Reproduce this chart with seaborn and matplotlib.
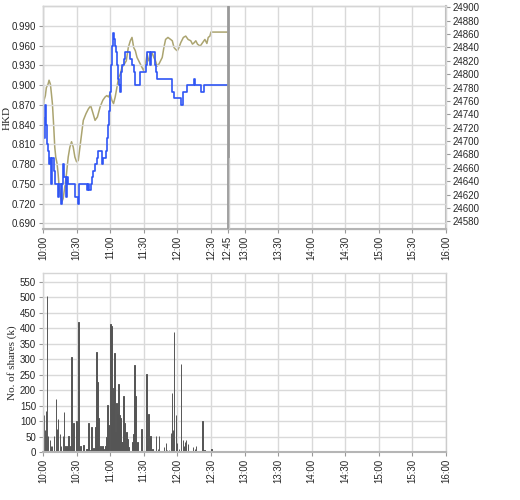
import matplotlib
matplotlib.use("Agg")
import matplotlib.pyplot as plt
import seaborn as sns
import pandas as pd

# minutes after 10:00 and last traded price (HKD)
price_min = [0, 0.6, 1.5, 2.4, 3.6, 4.5, 5.4, 6.6, 7.5, 8.4, 9.6, 10.5, 12, 13.5, 14.4,
             15.9, 17.1, 18, 18.9, 20.1, 21, 22.5, 28.5, 31.5, 32.1, 39, 40.5, 41.4, 42.6,
             43.5, 45, 46.5, 48, 49.5, 52.5, 53.4, 56.4, 57.6, 58.5, 59.4, 60, 60.9, 61.5,
             62.4, 63, 63.9, 64.8, 66, 66.6, 67.5, 68.4, 69.6, 70.8, 72, 73.5, 78, 79.5, 81,
             81.9, 87, 92.1, 93, 96, 96.9, 99.9, 101.1, 102, 115.5, 117, 123, 125.4, 129,
             135, 135.9, 141, 144, 165]
price = [0.85, 0.82, 0.87, 0.84, 0.81, 0.80, 0.78, 0.79, 0.75, 0.79, 0.77, 0.75, 0.75, 0.73, 0.75,
         0.72, 0.75, 0.78, 0.76, 0.73, 0.76, 0.75, 0.73, 0.72, 0.75, 0.74, 0.75, 0.74, 0.75,
         0.76, 0.77, 0.78, 0.79, 0.80, 0.78, 0.79, 0.80, 0.82, 0.84, 0.86, 0.89, 0.93, 0.96,
         0.98, 0.97, 0.96, 0.95, 0.93, 0.91, 0.90, 0.89, 0.92, 0.93, 0.94, 0.95, 0.94, 0.93, 0.92,
         0.90, 0.92, 0.93, 0.95, 0.93, 0.95, 0.93, 0.92, 0.91, 0.89, 0.88, 0.87, 0.89, 0.90,
         0.91, 0.90, 0.89, 0.90, 0.90]

# index level on the right axis
index_min = [0, 0.9, 2.1, 3, 4.5, 5.4, 6.6, 7.5, 8.4, 9.6, 10.5, 11.4, 12.6, 13.5, 14.4, 15.6,
             16.8, 18, 19.5, 21, 22.5, 24, 25.5, 27, 28.5, 30, 31.5, 33, 34.5, 36, 38.4, 40.5,
             42.6, 44.4, 46.5, 48.6, 51, 53.4, 55.5, 57, 58.5, 60, 61.5, 63, 64.5, 66, 67.5, 69,
             70.5, 72.6, 74.4, 76.2, 78, 79.5, 81, 82.5, 84, 85.5, 87, 88.5, 90, 91.5, 93, 94.5,
             96, 97.5, 99, 100.5, 102, 103.5, 105, 106.5, 108, 109.5, 111.6, 114, 115.5, 117,
             118.5, 120, 121.5, 123, 125.4, 127.5, 129.6, 132, 133.5, 135, 136.5, 138, 140.4,
             142.5, 144.6, 146.4, 147.6, 149.1, 150, 165]
index_lvl = [24746, 24761, 24768, 24780, 24785, 24791, 24785, 24771, 24756, 24721, 24691, 24676,
             24666, 24651, 24632, 24619, 24609, 24614, 24632, 24651, 24676, 24691, 24699, 24691,
             24676, 24669, 24671, 24691, 24711, 24731, 24741, 24748, 24753, 24743, 24731, 24736,
             24751, 24761, 24766, 24768, 24766, 24771, 24761, 24756, 24766, 24780, 24795, 24800,
             24810, 24815, 24820, 24840, 24850, 24855, 24840, 24835, 24825, 24820, 24815, 24810,
             24805, 24815, 24830, 24820, 24825, 24832, 24825, 24820, 24812, 24815, 24820, 24825,
             24840, 24852, 24855, 24852, 24850, 24840, 24837, 24835, 24840, 24847, 24855, 24857,
             24852, 24850, 24845, 24847, 24850, 24845, 24842, 24847, 24852, 24846, 24855, 24857,
             24863, 24863]

# per-minute volume, thousand shares
vol_min = [0.9, 1.8, 2.7, 3.6, 4.5, 6.3, 7.2, 8.1, 9.9, 11.7, 12.6, 13.5, 15.3, 16.2, 18, 18.9,
           19.8, 20.7, 21.6, 22.5, 24.3, 25.2, 26.1, 27, 29.7, 31.5, 33.3, 36, 38.7, 39.6, 40.5,
           42.3, 43.2, 45, 46.8, 47.7, 48.6, 49.5, 51.3, 53.1, 54, 55.8, 56.7, 57.6, 58.5, 60.3,
           61.2, 62.1, 63, 63.9, 64.8, 65.7, 66.6, 67.5, 68.4, 69.3, 70.2, 71.1, 72, 72.9, 73.8,
           74.7, 75.6, 76.5, 80.1, 81, 81.9, 82.8, 84.6, 88.2, 92.7, 93.6, 94.5, 96.3, 97.2, 98.1,
           100.8, 102.6, 103.5, 108, 109.8, 110.7, 112.5, 114.3, 115.2, 116.1, 117, 118.8, 119.7,
           121.5, 123.3, 125.1, 126, 126.9, 127.8, 129.6, 134.1, 135.9, 136.8, 142.2, 144, 150.3]
volume = [119, 70, 132, 504, 51, 38, 19, 19, 51, 171, 75, 106, 57, 19, 51, 128,
          19, 13, 19, 51, 19, 307, 8, 95, 101, 420, 19, 24, 11, 11, 94,
          8, 81, 13, 81, 324, 226, 110, 19, 19, 11, 19, 49, 151, 88, 413,
          408, 154, 206, 320, 63, 159, 124, 219, 119, 109, 32, 32, 180, 94, 32,
          65, 43, 16, 32, 57, 280, 180, 32, 74, 251, 19, 122, 51, 8, 11,
          51, 11, 51, 16, 30, 8, 8, 61, 191, 70, 386, 119, 30,
          11, 284, 38, 19, 32, 38, 27, 16, 11, 19, 99, 8, 11]

tick_min = [0, 30, 60, 90, 120, 150, 180, 210, 240, 270, 300, 330, 360]
tick_lbl = ["10:00", "10:30", "11:00", "11:30", "12:00", "12:30", "13:00", "13:30",
            "14:00", "14:30", "15:00", "15:30", "16:00"]
now_min = 165
now_lbl = "12:45"

price_ticks = [0.69, 0.72, 0.75, 0.78, 0.81, 0.84, 0.87, 0.90, 0.93, 0.96, 0.99]
index_ticks = list(range(24580, 24901, 20))
vol_ticks = list(range(0, 551, 50))

sns.set_theme(style="whitegrid")
plt.rcParams["font.family"] = ["Liberation Sans", "DejaVu Sans"]
plt.rcParams["grid.color"] = "#d9d9d9"
plt.rcParams["grid.linewidth"] = 1.0

fig = plt.figure(figsize=(5.2, 5.0), dpi=100)
ax = fig.add_axes([0.0827, 0.542, 0.775, 0.446])
ax2 = ax.twinx()
axv = fig.add_axes([0.0827, 0.096, 0.775, 0.358])

price_df = pd.DataFrame({"t": price_min, "p": price})
index_df = pd.DataFrame({"t": index_min, "v": index_lvl})
vol_df = pd.DataFrame({"t": vol_min, "v": volume})

sns.lineplot(data=index_df, x="t", y="v", ax=ax2, color="#aba470", lw=1.1)
sns.lineplot(data=price_df, x="t", y="p", ax=ax, color="#2f55f5", lw=1.2,
             drawstyle="steps-post")
ax.set_zorder(ax2.get_zorder() + 1)
ax.patch.set_visible(False)

ax.axvline(now_min, color="#999999", lw=2, zorder=5)
ax.axvline(now_min + 0.9, ymin=0, ymax=0.32, color="#cccccc", lw=1, zorder=5)

ax.set_xlim(0, 360)
ax.set_ylim(0.6814, 1.0203)
ax2.set_ylim(24568.5, 24902)
ax.set_yticks(price_ticks)
ax.set_yticklabels([f"{v:.3f}" for v in price_ticks])
ax2.set_yticks(index_ticks)
ax2.set_yticklabels([str(v) for v in index_ticks])
ax2.grid(False)

top_ticks = tick_min[:6] + [now_min] + tick_min[6:]
top_lbls = tick_lbl[:6] + [now_lbl] + tick_lbl[6:]
ax.set_xticks(top_ticks)
ax.set_xticklabels(top_lbls, rotation=90)
ax.set_xlabel("")
ax.set_ylabel("HKD", family="Liberation Serif", fontsize=8)
ax.yaxis.set_label_coords(-0.077, 0.5)
ax2.set_ylabel("")

axv.bar(vol_df["t"], vol_df["v"], width=0.6, color="#555555", edgecolor="#555555",
        linewidth=0.7, align="center")
axv.set_xlim(0, 360)
axv.set_ylim(0, 578)
axv.set_yticks(vol_ticks)
axv.set_xticks(tick_min)
axv.set_xticklabels(tick_lbl, rotation=90)
axv.set_ylabel("No. of shares (k)", family="Liberation Serif", fontsize=8)
axv.yaxis.set_label_coords(-0.065, 0.5)

for a in (ax, ax2, axv):
    a.tick_params(labelsize=7, length=3, width=0.8, color="#999999", pad=2)
    for s in a.spines.values():
        s.set_color("#d5d5d5")
        s.set_linewidth(1.0)
for a in (ax, axv):
    a.spines["bottom"].set_color("#b5b5b5")
    a.spines["bottom"].set_linewidth(1.5)
    a.tick_params(axis="x", bottom=True)
    a.tick_params(axis="y", left=True)
ax2.spines["right"].set_color("#b5b5b5")
ax2.spines["right"].set_linewidth(1.5)
ax2.tick_params(axis="y", right=True)
axv.spines["right"].set_color("#cccccc")

fig.savefig("out.png", dpi=100, facecolor="white")
